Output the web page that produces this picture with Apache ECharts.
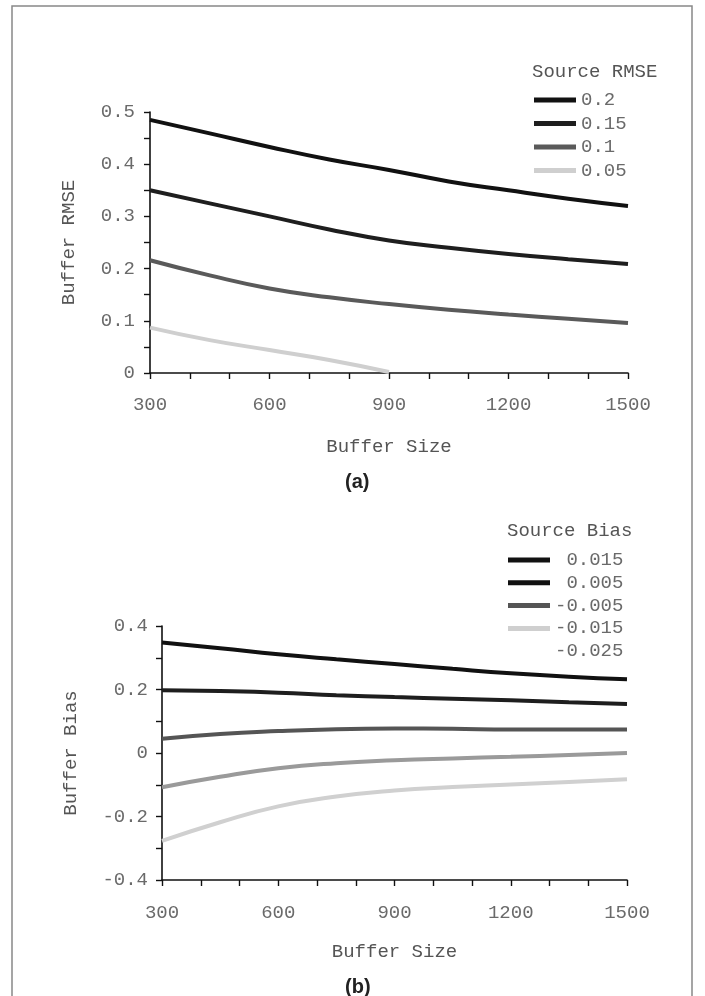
<!DOCTYPE html>
<html><head><meta charset="utf-8">
<script src="https://cdn.jsdelivr.net/npm/echarts@6/dist/echarts.min.js"></script>
<style>html,body{margin:0;padding:0;background:#fff}#c{width:705px;height:996px}</style>
</head><body><div id="c"></div>
<script>
// ---- data ----
var bufferSizes = [300, 450, 600, 750, 900, 1050, 1200, 1350, 1500];
var rmseNames = ['0.2', '0.15', '0.1', '0.05'];
var rmse02  = [0.485, 0.459, 0.433, 0.409, 0.389, 0.367, 0.350, 0.334, 0.320];
var rmse015 = [0.350, 0.325, 0.300, 0.275, 0.254, 0.240, 0.228, 0.218, 0.209];
var rmse01  = [0.216, 0.187, 0.162, 0.145, 0.132, 0.121, 0.112, 0.104, 0.096];
var rmse005 = [0.087, 0.063, 0.044, 0.025, 0.002, null, null, null, null];

var biasNames = ['0.015', '0.005', '-0.005', '-0.015', '-0.025'];
var bias015  = [0.348, 0.330, 0.311, 0.295, 0.280, 0.265, 0.251, 0.240, 0.232];
var bias005  = [0.198, 0.195, 0.190, 0.182, 0.176, 0.171, 0.166, 0.160, 0.154];
var biasM005 = [0.045, 0.060, 0.069, 0.075, 0.077, 0.076, 0.074, 0.074, 0.074];
var biasM015 = [-0.108, -0.075, -0.048, -0.032, -0.023, -0.017, -0.012, -0.006, 0.000];
var biasM025 = [-0.277, -0.218, -0.168, -0.137, -0.118, -0.107, -0.099, -0.091, -0.083];

var xTicks = [300, 600, 900, 1200, 1500];

// ---- build ----
function pairs(vals){ var out=[]; for(var i=0;i<vals.length;i++){ if(vals[i]!==null) out.push([bufferSizes[i], vals[i]]); } return out; }
var mono = '"Liberation Mono", "DejaVu Sans Mono", monospace';
var txtGray = '#6a6a6a';

function xAxis(gi, margin, gap){
  return {type:'value', gridIndex:gi, min:xTicks[0], max:xTicks[xTicks.length-1], interval:300,
    name:'Buffer Size', nameLocation:'middle', nameGap:gap,
    nameTextStyle:{fontFamily:mono, fontSize:19, color:'#555'},
    axisLine:{onZero:false, lineStyle:{color:'#111', width:1.6}},
    axisTick:{show:true, inside:false, length:6, lineStyle:{color:'#111', width:1.4}},
    minorTick:{show:true, splitNumber:3, length:6, lineStyle:{color:'#111', width:1.4}},
    axisLabel:{fontFamily:mono, fontSize:19, color:txtGray, margin:margin,
      formatter:function(v){ return String(v); }},
    splitLine:{show:false}};
}
function yAxis(gi, min, max, interval, name, gap, margin){
  return {type:'value', gridIndex:gi, min:min, max:max, interval:interval,
    name:name, nameLocation:'middle', nameGap:gap,
    nameTextStyle:{fontFamily:mono, fontSize:19, color:'#555'},
    axisLine:{show:true, onZero:false, lineStyle:{color:'#111', width:1.6}},
    axisTick:{show:true, length:6, lineStyle:{color:'#111', width:1.4}},
    minorTick:{show:true, splitNumber:2, length:6, lineStyle:{color:'#111', width:1.4}},
    axisLabel:{fontFamily:mono, fontSize:19, color:txtGray, margin:margin,
      formatter:function(v){ return v===0 ? '0' : String(Math.round(v*10)/10); }},
    splitLine:{show:false}};
}
function line(name, data, gi, color){
  return {name:name, type:'line', xAxisIndex:gi, yAxisIndex:gi, data:pairs(data),
    smooth:true, showSymbol:false, symbol:'none', clip:true,
    lineStyle:{color:color, width:4}, itemStyle:{color:color}};
}

var rmseColors = ['#111', '#1e1e1e', '#5a5a5a', '#cfcfcf'];
var rmseData = [rmse02, rmse015, rmse01, rmse005];
var biasColors = ['#111', '#1e1e1e', '#555', '#9a9a9a', '#d0d0d0'];
var biasData = [bias015, bias005, biasM005, biasM015, biasM025];
var biasLegendColors = ['#111', '#111', '#555', '#cfcfcf', 'rgba(0,0,0,0)'];

var series = [];
rmseNames.forEach(function(n,i){ series.push(line('a'+n, rmseData[i], 0, rmseColors[i])); });
biasNames.forEach(function(n,i){ series.push(line('b'+n, biasData[i], 1, biasColors[i])); });

var option = {
  animation:false,
  backgroundColor:'#fff',
  title:[
    {text:'Source RMSE', left:527, top:57, textStyle:{fontFamily:mono, fontSize:19, fontWeight:'normal', color:'#555'}},
    {text:'Source Bias', left:502, top:516, textStyle:{fontFamily:mono, fontSize:19, fontWeight:'normal', color:'#555'}},
    {text:'(a)', left:340, top:467, textStyle:{fontFamily:'"Liberation Sans", Arial, sans-serif', fontSize:20, fontWeight:'bold', color:'#222'}},
    {text:'(b)', left:340, top:972, textStyle:{fontFamily:'"Liberation Sans", Arial, sans-serif', fontSize:20, fontWeight:'bold', color:'#222'}}
  ],
  legend:[
    {orient:'vertical', left:529, top:85, itemWidth:42, itemHeight:5, itemGap:3.5, icon:'rect',
     data:rmseNames.map(function(n,i){ return {name:'a'+n, itemStyle:{color:rmseColors[i]}}; }),
     formatter:function(n){ return n.slice(1); },
     textStyle:{fontFamily:mono, fontSize:19, color:txtGray, lineHeight:20}},
    {orient:'vertical', left:503, top:545, itemWidth:42, itemHeight:5, itemGap:2.8, icon:'rect',
     data:biasNames.map(function(n,i){ return {name:'b'+n, itemStyle:{color:biasLegendColors[i]}}; }),
     formatter:function(n){ var s=n.slice(1); return s.charAt(0)==='-' ? s : ' '+s; },
     textStyle:{fontFamily:mono, fontSize:19, color:txtGray, lineHeight:20}}
  ],
  grid:[
    {left:150, top:112, width:478, height:261},
    {left:162, top:626, width:465, height:254}
  ],
  xAxis:[xAxis(0, 22, 64), xAxis(1, 23, 62)],
  yAxis:[yAxis(0, 0, 0.5, 0.1, 'Buffer RMSE', 72, 15), yAxis(1, -0.4, 0.4, 0.2, 'Buffer Bias', 82, 14)],
  series:series,
  graphic:[{type:'rect', shape:{x:12, y:6, width:680, height:1000}, style:{fill:'none', stroke:'#888', lineWidth:1.5}, silent:true}]
};
echarts.init(document.getElementById('c'), null, {renderer:'canvas'}).setOption(option);
</script></body></html>
